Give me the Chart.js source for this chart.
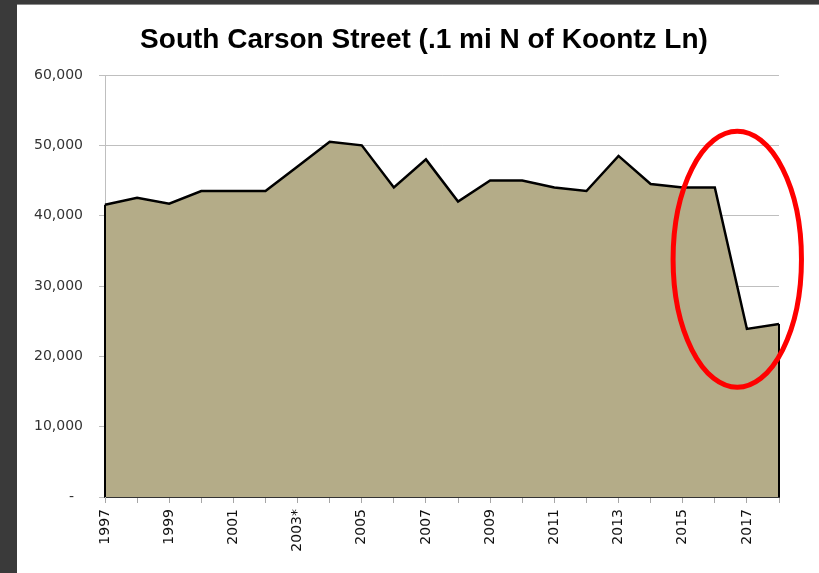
<!DOCTYPE html>
<html>
<head>
<meta charset="utf-8">
<script src="https://cdn.jsdelivr.net/npm/chart.js@4.4.1/dist/chart.umd.min.js"></script>
<style>
  html, body { margin: 0; padding: 0; background: #3a3a3a; }
  #frame { position: absolute; left: 17px; top: 4px; width: 802px; height: 569px; background: #fff; border-top: 1px solid #8a8a8a; box-sizing: border-box; }
  canvas { display: block; }
</style>
</head>
<body>
<div id="frame"><canvas id="chart" width="802" height="568"></canvas></div>
<script>
// traffic counts
const years = ['1997', '1998', '1999', '2000', '2001', '2002', '2003*', '2004', '2005', '2006', '2007',
               '2008', '2009', '2010', '2011', '2012', '2013', '2014', '2015', '2016', '2017', '2018'];
const counts = [41550, 42550, 41700, 43500, 43500, 43500, 47000, 50500, 50000, 44000, 48000,
                42000, 45000, 45000, 44000, 43500, 48500, 44500, 44000, 44000, 23900, 24600];
const yTicks = [0, 10000, 20000, 30000, 40000, 50000, 60000];
const titleText = 'South Carson Street (.1 mi N of Koontz Ln)';

// red ring around the 2016-2018 drop: centre [index, value], radii [index, value]
const ringCenter = [19.7, 33800];
const ringRadius = [2.0, 18200];

const titleOutlineRing = {
    id: 'titleOutlineRing',
    afterDraw(chart) {
        const ctx = chart.ctx;
        const x = chart.scales.x, y = chart.scales.y;
        const pts = chart.getDatasetMeta(0).data;
        const base = y.getPixelForValue(0);
        ctx.save();
        // title sits a bit left of the plot centre, like the slide
        ctx.fillStyle = '#000';
        ctx.font = 'bold 28px "Liberation Sans", Arial, sans-serif';
        ctx.textAlign = 'center';
        ctx.textBaseline = 'alphabetic';
        ctx.fillText(titleText, chart.width / 2 + 6, 43);
        // close the area on both ends like the original
        ctx.strokeStyle = '#000';
        ctx.lineWidth = 2;
        ctx.beginPath();
        ctx.moveTo(pts[0].x, base);
        ctx.lineTo(pts[0].x, pts[0].y);
        ctx.moveTo(pts[pts.length - 1].x, pts[pts.length - 1].y);
        ctx.lineTo(pts[pts.length - 1].x, base);
        ctx.stroke();
        // the ring
        const cx = x.getPixelForValue(ringCenter[0]);
        const cy = y.getPixelForValue(ringCenter[1]);
        const rx = x.getPixelForValue(ringCenter[0] + ringRadius[0]) - cx;
        const ry = cy - y.getPixelForValue(ringCenter[1] + ringRadius[1]);
        ctx.strokeStyle = '#ff0000';
        ctx.lineWidth = 5;
        ctx.beginPath();
        ctx.ellipse(cx, cy, rx, ry, 0, 0, Math.PI * 2);
        ctx.stroke();
        ctx.restore();
    }
};

new Chart(document.getElementById('chart'), {
    type: 'line',
    data: {
        labels: years,
        datasets: [{
            data: counts,
            borderColor: '#000',
            borderWidth: 2.5,
            backgroundColor: '#b4ac88',
            fill: 'origin',
            tension: 0,
            pointRadius: 0
        }]
    },
    options: {
        responsive: false,
        animation: false,
        layout: { padding: { left: 10, right: 40, top: 70, bottom: 16 } },
        plugins: {
            legend: { display: false },
            tooltip: { enabled: false },
            title: { display: false }
        },
        scales: {
            x: {
                offset: false,
                afterFit: s => { s.height = 60; },
                grid: { drawOnChartArea: false, drawTicks: true, tickLength: 6, color: '#a6a6a6' },
                border: { display: true, color: '#333', width: 2 },
                ticks: {
                    autoSkip: false,
                    maxRotation: 90,
                    minRotation: 90,
                    padding: 6,
                    color: '#111',
                    font: { family: '"DejaVu Sans", sans-serif', size: 14 },
                    callback: (v, i) => (i % 2 === 0 ? years[i] : '')
                }
            },
            y: {
                min: yTicks[0],
                max: yTicks[yTicks.length - 1],
                z: 1,
                afterFit: s => { s.width = 78; },
                afterBuildTicks: s => { s.ticks = yTicks.map(v => ({ value: v })); },
                grid: { color: 'rgba(0,0,0,0.25)', tickLength: 6 },
                border: { display: true, color: '#bfbfbf', width: 1 },
                ticks: {
                    padding: 16,
                    color: '#333',
                    font: { family: '"DejaVu Sans", sans-serif', size: 14 },
                    callback: v => (v === 0 ? '-  ' : v.toLocaleString('en-US'))
                }
            }
        }
    },
    plugins: [titleOutlineRing]
});
</script>
</body>
</html>
